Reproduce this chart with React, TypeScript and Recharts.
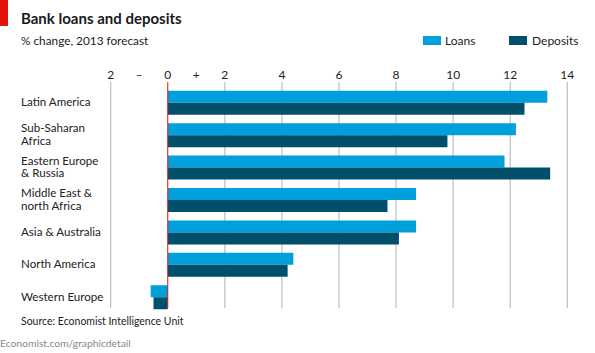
import React from "react";
import { BarChart, Bar, XAxis, YAxis, CartesianGrid, ReferenceLine } from "recharts";

const categories = [
  "Latin America",
  "Sub-Saharan\nAfrica",
  "Eastern Europe\n& Russia",
  "Middle East &\nnorth Africa",
  "Asia & Australia",
  "North America",
  "Western Europe",
];
const loans = [13.3, 12.2, 11.8, 8.7, 8.7, 4.4, -0.6];
const deposits = [12.5, 9.8, 13.4, 7.7, 8.1, 4.2, -0.5];
const tickValues = [-2, -1, 0, 1, 2, 4, 6, 8, 10, 12, 14];
const tickLabels = ["2", "–", "0", "+", "2", "4", "6", "8", "10", "12", "14"];
const gridValues = [-2, 2, 4, 6, 8, 10, 12, 14];

const data = categories.map((c, i) => ({ name: c, loans: loans[i], deposits: deposits[i] }));

const FONT = "Lato, 'Noto Sans', sans-serif";
const LIGHT = "#00a0dc";
const DARK = "#004f6b";

const XTick = (props: any) => {
  const { x, payload } = props;
  const idx = tickValues.indexOf(payload.value);
  return (
    <text x={x} y={79} textAnchor="middle" fontFamily={FONT} fontSize={12} fill="#222">
      {tickLabels[idx]}
    </text>
  );
};

const YTick = (props: any) => {
  const { y, payload } = props;
  const lines = String(payload.value).split("\n");
  const startDy = lines.length === 1 ? 4 : -2.4;
  return (
    <text x={21} y={y} textAnchor="start" fontFamily={FONT} fontSize={11.6} fill="#222">
      {lines.map((l, i) => (
        <tspan key={i} x={21} dy={i === 0 ? startDy : 12.6}>
          {l}
        </tspan>
      ))}
    </text>
  );
};

export default function App() {
  return (
    <div style={{ position: "absolute", left: 0, top: 0, width: 595, height: 353, background: "#fff", fontFamily: FONT }}>
      <div style={{ position: "absolute", left: 0, top: 0, width: 8, height: 26, background: "#e3120b" }} />
      <div style={{ position: "absolute", left: 21, top: 9, fontSize: 15, fontWeight: 700, color: "#1a1a1a", whiteSpace: "nowrap" }}>
        Bank loans and deposits
      </div>
      <div style={{ position: "absolute", left: 21, top: 33, fontSize: 11.8, color: "#222", whiteSpace: "nowrap" }}>
        % change, 2013 forecast
      </div>
      <div style={{ position: "absolute", left: 423, top: 36, width: 18, height: 9, background: LIGHT }} />
      <div style={{ position: "absolute", left: 445, top: 33, fontSize: 12, color: "#222" }}>Loans</div>
      <div style={{ position: "absolute", left: 509, top: 36, width: 18, height: 9, background: DARK }} />
      <div style={{ position: "absolute", left: 532, top: 33, fontSize: 12, color: "#222" }}>Deposits</div>
      <div style={{ position: "absolute", left: 21, top: 315, fontSize: 10.5, color: "#222", whiteSpace: "nowrap" }}>
        Source: Economist Intelligence Unit
      </div>
      <div style={{ position: "absolute", left: 0, top: 337, fontSize: 10.3, color: "#888", whiteSpace: "nowrap" }}>
        Economist.com/graphicdetail
      </div>
      <div style={{ position: "absolute", left: 0, top: 0 }}>
        <BarChart
          width={595}
          height={353}
          data={data}
          layout="vertical"
          margin={{ top: 52, right: 27.7, bottom: 45, left: 0 }}
          barCategoryGap="14.5%"
          barGap={0}
        >
          <CartesianGrid horizontal={false} vertical={true} xAxisId="grid" stroke="#bdbdbd" strokeWidth={1.2} />
          <XAxis
            xAxisId="grid"
            type="number"
            domain={[-2, 14]}
            ticks={gridValues}
            orientation="top"
            hide
            allowDataOverflow
          />
          <XAxis
            type="number"
            domain={[-2, 14]}
            ticks={tickValues}
            interval={0}
            orientation="top"
            height={30}
            axisLine={false}
            tickLine={false}
            tick={<XTick />}
            allowDataOverflow
          />
          <YAxis
            type="category"
            dataKey="name"
            width={110.7}
            axisLine={false}
            tickLine={false}
            tick={<YTick />}
            interval={0}
            padding={{ top: 4.1, bottom: -4.9 }}
          />
          <ReferenceLine x={0} stroke="#e3120b" strokeWidth={1} />
          <Bar dataKey="loans" fill={LIGHT} isAnimationActive={false} />
          <Bar dataKey="deposits" fill={DARK} isAnimationActive={false} />
        </BarChart>
      </div>
    </div>
  );
}
